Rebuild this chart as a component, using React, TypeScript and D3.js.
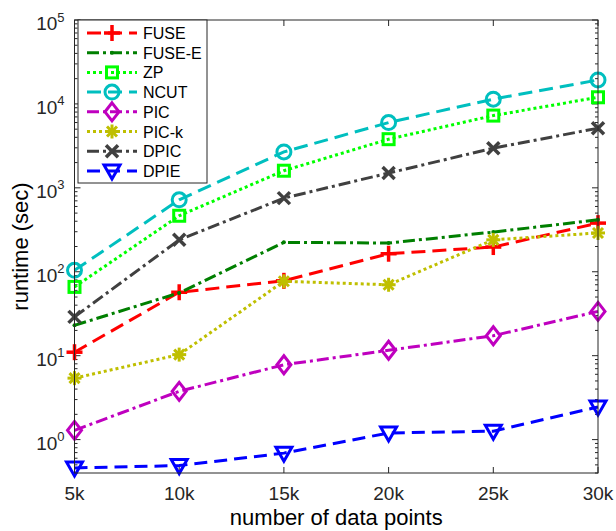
import React from "react";
import * as d3 from "d3";

const categories = ["5k", "10k", "15k", "20k", "25k", "30k"];
const xValues = [5, 10, 15, 20, 25, 30];

const seriesNames = ["FUSE", "FUSE-E", "ZP", "NCUT", "PIC", "PIC-k", "DPIC", "DPIE"];
const fuse = [11, 57, 78, 164, 197, 380];
const fuseE = [23, 56, 224, 220, 297, 416];
const zp = [66, 465, 1600, 3800, 7260, 12000];
const ncut = [104, 720, 2680, 6000, 11400, 19300];
const pic = [1.29, 3.76, 7.8, 11.6, 17.3, 33.7];
const picK = [5.4, 10.3, 77, 70, 240, 290];
const dpic = [29, 240, 754, 1500, 2970, 5130];
const dpie = [0.46, 0.49, 0.69, 1.2, 1.26, 2.45];

const yTickExps = [0, 1, 2, 3, 4, 5];

type Style = { color: string; dash: string; marker: string };
const styles: Style[] = [
  { color: "#FF0000", dash: "14,7", marker: "plus" },
  { color: "#007F00", dash: "12,4,3,4", marker: "dot" },
  { color: "#00FF00", dash: "3,3", marker: "square" },
  { color: "#00BFBF", dash: "14,7", marker: "circle" },
  { color: "#BF00BF", dash: "12,4,3,4", marker: "diamond" },
  { color: "#BFBF00", dash: "3,3", marker: "asterisk" },
  { color: "#404040", dash: "12,4,3,4", marker: "x" },
  { color: "#0000FF", dash: "13,7", marker: "triangle" },
];
const seriesData = [fuse, fuseE, zp, ncut, pic, picK, dpic, dpie];

const left = 74.5, right = 598, top = 20, bottom = 473;

function Marker({ type, x, y, color }: { type: string; x: number; y: number; color: string }) {
  const sw = 3;
  switch (type) {
    case "plus":
      return (
        <g stroke={color} strokeWidth={3.5}>
          <line x1={x - 8} x2={x + 8} y1={y} y2={y} />
          <line x1={x} x2={x} y1={y - 8} y2={y + 8} />
        </g>
      );
    case "dot":
      return <circle cx={x} cy={y} r={2} fill={color} />;
    case "square":
      return <rect x={x - 5.5} y={y - 5.5} width={11} height={11} fill="none" stroke={color} strokeWidth={3} />;
    case "circle":
      return <circle cx={x} cy={y} r={7} fill="none" stroke={color} strokeWidth={sw} />;
    case "diamond":
      return (
        <path d={`M${x},${y - 9}L${x + 7},${y}L${x},${y + 9}L${x - 7},${y}Z`} fill="none" stroke={color} strokeWidth={sw} />
      );
    case "asterisk":
      return (
        <g stroke={color} strokeWidth={3}>
          <line x1={x - 7} x2={x + 7} y1={y} y2={y} />
          <line x1={x} x2={x} y1={y - 7} y2={y + 7} />
          <line x1={x - 5} x2={x + 5} y1={y - 5} y2={y + 5} />
          <line x1={x - 5} x2={x + 5} y1={y + 5} y2={y - 5} />
        </g>
      );
    case "x":
      return (
        <g stroke={color} strokeWidth={3.5}>
          <line x1={x - 6} x2={x + 6} y1={y - 6} y2={y + 6} />
          <line x1={x - 6} x2={x + 6} y1={y + 6} y2={y - 6} />
        </g>
      );
    case "triangle":
      return (
        <path d={`M${x - 8},${y - 6}L${x + 8},${y - 6}L${x},${y + 8}Z`} fill="none" stroke={color} strokeWidth={sw} />
      );
  }
  return null;
}

export default function App() {
  const x = d3.scaleLinear().domain([5, 30]).range([left, right]);
  const y = d3.scaleLog().domain([0.4, 1e5]).range([bottom, top]);
  const line = d3
    .line<number>()
    .x((_, i) => x(xValues[i]))
    .y((d) => y(d));

  const minorTicks: number[] = [];
  for (let e = -1; e <= 4; e++) {
    for (let m = 2; m <= 9; m++) {
      const v = m * Math.pow(10, e);
      if (v >= 0.4 && v <= 1e5) minorTicks.push(v);
    }
  }
  const axisColor = "#262626";
  const font = "'Liberation Sans', Arial, sans-serif";

  const legX = 78, legY = 20, legW = 129, legH = 163;
  const rowH = 19.7;

  return (
    <svg width={616} height={531} style={{ position: "absolute", left: 0, top: 0 }} fontFamily={font}>
      <rect x={0} y={0} width={616} height={531} fill="#fff" />
      {/* ticks */}
      <g stroke={axisColor} strokeWidth={1}>
        {xValues.map((v) => (
          <g key={"xt" + v}>
            <line x1={x(v)} x2={x(v)} y1={bottom} y2={bottom - 6} />
            <line x1={x(v)} x2={x(v)} y1={top} y2={top + 6} />
          </g>
        ))}
        {yTickExps.map((e) => (
          <g key={"yt" + e}>
            <line x1={left} x2={left + 6} y1={y(Math.pow(10, e))} y2={y(Math.pow(10, e))} />
            <line x1={right} x2={right - 6} y1={y(Math.pow(10, e))} y2={y(Math.pow(10, e))} />
          </g>
        ))}
        {minorTicks.map((v) => (
          <g key={"ym" + v}>
            <line x1={left} x2={left + 3} y1={y(v)} y2={y(v)} />
            <line x1={right} x2={right - 3} y1={y(v)} y2={y(v)} />
          </g>
        ))}
      </g>
      {/* series */}
      {seriesData.map((data, si) => (
        <g key={"s" + si}>
          <path d={line(data) || ""} fill="none" stroke={styles[si].color} strokeWidth={3} strokeDasharray={styles[si].dash} />
          {data.map((d, i) => (
            <Marker key={i} type={styles[si].marker} x={x(xValues[i])} y={y(d)} color={styles[si].color} />
          ))}
        </g>
      ))}
      {/* box */}
      <rect x={left} y={top} width={right - left} height={bottom - top} fill="none" stroke={axisColor} strokeWidth={1} />
      {/* x tick labels */}
      {categories.map((c, i) => (
        <text key={c} x={x(xValues[i])} y={bottom + 27} textAnchor="middle" fontSize={19} fill={axisColor}>
          {c}
        </text>
      ))}
      {/* y tick labels */}
      {yTickExps.map((e) => (
        <text key={"yl" + e} x={left - 10} y={y(Math.pow(10, e)) + 10} textAnchor="end" fontSize={19} fill={axisColor}>
          10
          <tspan dy={-8.5} fontSize={13}>{e}</tspan>
        </text>
      ))}
      {/* axis labels */}
      <text x={(left + right) / 2} y={525} textAnchor="middle" fontSize={22} fill="#000">
        number of data points
      </text>
      <text transform={`translate(28,${(top + bottom) / 2}) rotate(-90)`} textAnchor="middle" fontSize={22} fill="#000">
        runtime (sec)
      </text>
      {/* legend */}
      <rect x={legX} y={legY} width={legW} height={legH} fill="#fff" stroke={axisColor} strokeWidth={1} />
      {seriesNames.map((n, i) => {
        const ry = legY + 13 + i * rowH;
        return (
          <g key={n}>
            <line x1={87} x2={137} y1={ry} y2={ry} stroke={styles[i].color} strokeWidth={3} strokeDasharray={styles[i].dash} />
            <Marker type={styles[i].marker} x={112} y={ry} color={styles[i].color} />
            <text x={143} y={ry + 6} fontSize={16} fill="#000">
              {n}
            </text>
          </g>
        );
      })}
    </svg>
  );
}
